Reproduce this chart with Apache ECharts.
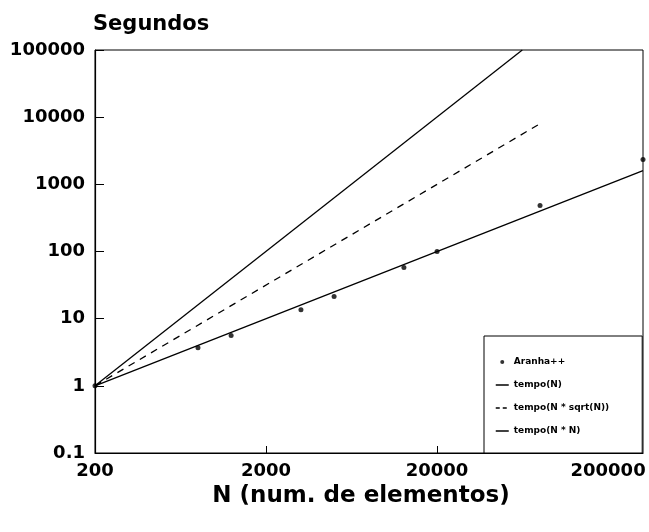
<!DOCTYPE html>
<html>
<head>
<meta charset="utf-8">
<script src="https://cdn.jsdelivr.net/npm/echarts@6/dist/echarts.min.js"></script>
<style>
  html, body { margin: 0; padding: 0; background: #fff; }
  #grafico { width: 649px; height: 532px; }
</style>
</head>
<body>
<div id="grafico"></div>
<script>
	// valores (log-log)
	var nAranha = [200, 800, 1250, 3200, 5000, 12800, 20000, 80000, 320000];
	var tAranha = [1, 3.7, 5.6, 13.6, 21.3, 57.7, 100, 485, 2350];

	// retas de referencia: pontos inicial e final
	var nLinear = [200, 320000];
	var tLinear = [1, 1600];
	var nSqrt = [200, 80000];
	var tSqrt = [1, 8000];
	var nQuad = [200, 63000];
	var tQuad = [1, 100000];

	var ticksX = [200, 2000, 20000, 200000];

	function pares(xs, ys) {
		var out = [];
		for (var i = 0; i < xs.length; i++) {
			out.push([xs[i], ys[i]]);
		}
		return out;
	}

	var fonte = 'DejaVu Sans';
	var semPonto = { opacity: 0 };   // esconde o simbolo no icone da legenda
	var chart = echarts.init(document.getElementById('grafico'), null, { renderer: 'canvas' });

	chart.setOption({
		animation: false,
		backgroundColor: '#fff',
		title: {
			text: 'Segundos',
			left: 88,
			top: 9,
			textStyle: { fontFamily: fonte, fontWeight: 'bold', fontSize: 21, color: '#000' }
		},
		grid: {
			left: 95, right: 6, top: 50, bottom: 79,
			show: true, borderColor: '#000', borderWidth: 1, backgroundColor: 'transparent'
		},
		legend: {
			orient: 'vertical',
			left: 484,
			top: 336,
			padding: [20, 33, 16, 11],
			itemGap: 11,
			itemWidth: 13,
			itemHeight: 4,
			backgroundColor: '#fff',
			borderColor: '#000',
			borderWidth: 1,
			borderRadius: 0,
			lineStyle: { width: 1.5, color: '#000' },
			textStyle: { fontFamily: fonte, fontWeight: 'bold', fontSize: 9, color: '#000', lineHeight: 12 },
			data: [
				{ name: 'Aranha++', icon: 'circle' },
				{ name: 'tempo(N)', itemStyle: semPonto },
				{ name: 'tempo(N * sqrt(N))', itemStyle: semPonto, lineStyle: { type: [4, 3] } },
				{ name: 'tempo(N * N)', itemStyle: semPonto }
			]
		},
		xAxis: {
			type: 'log',
			logBase: 10,
			min: 200,
			max: 320000,
			name: 'N (num. de elementos)',
			nameLocation: 'middle',
			nameGap: 30,
			nameTextStyle: { fontFamily: fonte, fontWeight: 'bold', fontSize: 23, color: '#000', padding: [0, 16, 0, 0] },
			axisLine: { lineStyle: { color: '#000', width: 1.2 } },
			axisTick: { inside: true, length: 7, customValues: ticksX, lineStyle: { color: '#000' } },
			axisLabel: {
				customValues: ticksX,
				margin: 9,
				fontFamily: fonte, fontWeight: 'bold', fontSize: 18, color: '#000',
				formatter: function (v) { return String(Math.round(v)); }
			},
			splitLine: { show: false },
			minorTick: { show: false }
		},
		yAxis: {
			type: 'log',
			logBase: 10,
			min: 0.1,
			max: 100000,
			axisLine: { lineStyle: { color: '#000', width: 1.2 } },
			axisTick: { inside: true, length: 9, lineStyle: { color: '#000' } },
			axisLabel: {
				margin: 10,
				fontFamily: fonte, fontWeight: 'bold', fontSize: 18, color: '#000',
				formatter: function (v) { return v < 1 ? '0.1' : String(Math.round(v)); }
			},
			splitLine: { show: false }
		},
		series: [
			{
				name: 'Aranha++',
				type: 'scatter',
				symbol: 'circle',
				symbolSize: 5,
				itemStyle: { color: '#000' },
				data: pares(nAranha, tAranha),
				z: 5
			},
			{
				name: 'tempo(N)',
				type: 'line',
				symbol: 'none',
				clip: true,
				lineStyle: { color: '#000', width: 1.3 },
				itemStyle: { color: '#000' },
				data: pares(nLinear, tLinear)
			},
			{
				name: 'tempo(N * sqrt(N))',
				type: 'line',
				symbol: 'none',
				clip: true,
				lineStyle: { color: '#000', width: 1.3, type: [7, 6] },
				itemStyle: { color: '#000' },
				data: pares(nSqrt, tSqrt)
			},
			{
				name: 'tempo(N * N)',
				type: 'line',
				symbol: 'none',
				clip: true,
				lineStyle: { color: '#000', width: 1.3 },
				itemStyle: { color: '#000' },
				data: pares(nQuad, tQuad)
			}
		]
	});
</script>
</body>
</html>
